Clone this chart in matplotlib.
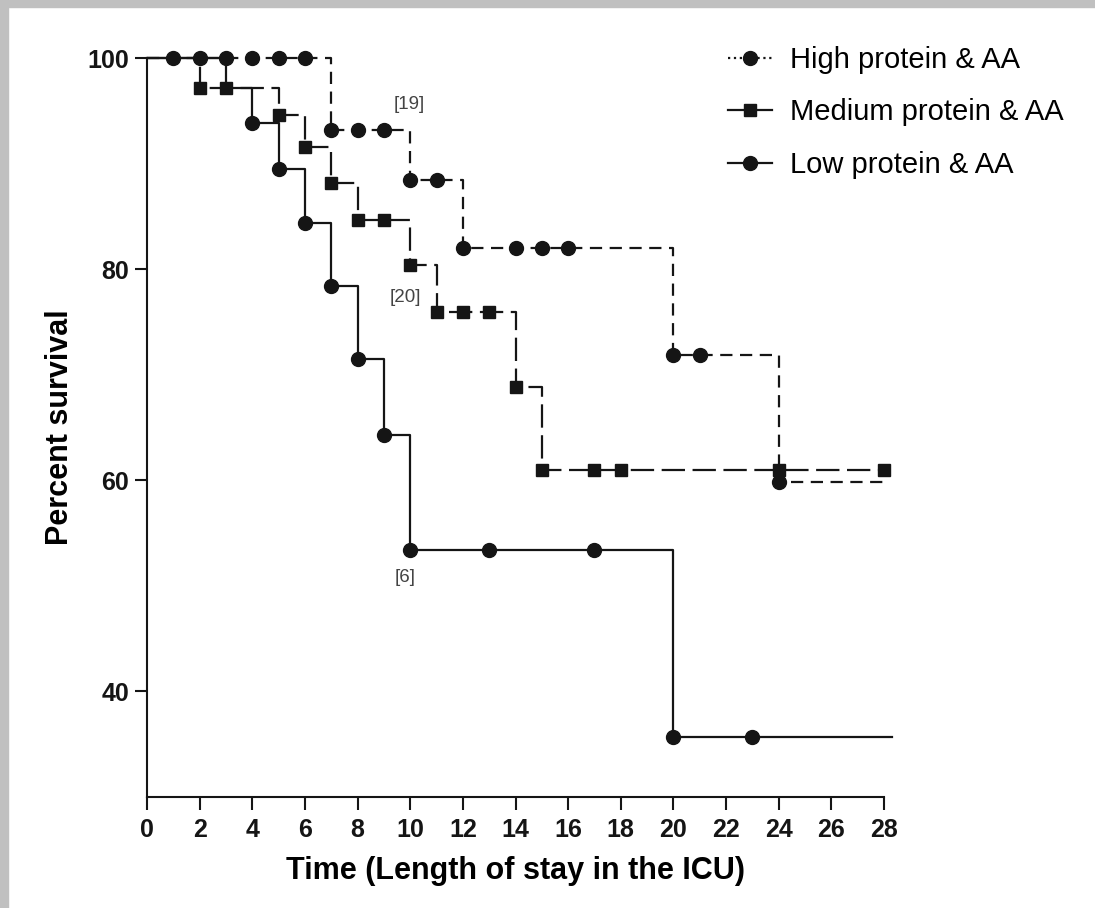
import numpy as np
import matplotlib
matplotlib.use("Agg")
import matplotlib.pyplot as plt
from matplotlib.patches import Rectangle

plt.rcParams['font.family'] = ['Liberation Sans', 'DejaVu Sans']

# Kaplan-Meier steps: time of each drop and survival (%) after it
high_t = [0, 7, 10, 12, 20, 24, 28]
high_s = [100, 93.2, 88.4, 82.0, 71.9, 59.8, 59.8]
high_marks = [1, 2, 3, 4, 5, 6, 7, 8, 9, 10, 11, 12, 14, 15, 16, 20, 21, 24]

med_t = [0, 2, 5, 6, 7, 8, 10, 11, 14, 15, 28]
med_s = [100, 97.2, 94.6, 91.6, 88.2, 84.7, 80.4, 75.9, 68.8, 61.0, 61.0]
med_marks = [2, 3, 5, 6, 7, 8, 9, 10, 11, 12, 13, 14, 15, 17, 18, 24, 28]

low_t = [0, 3, 4, 5, 6, 7, 8, 9, 10, 20, 28.3]
low_s = [100, 97.2, 93.8, 89.5, 84.4, 78.4, 71.5, 64.3, 53.4, 35.7, 35.7]
low_marks = [4, 5, 6, 7, 8, 9, 10, 13, 17, 20, 23]

# numbers at risk written next to the curves
risk_labels = ['[19]', '[20]', '[6]']
risk_pos = [(9.95, 95.6), (9.8, 77.3), (9.8, 50.8)]

xticks = list(range(0, 29, 2))
yticks = [40, 60, 80, 100]


def surv_at(t, s, x):
    idx = np.searchsorted(t, x, side='right') - 1
    return np.array(s)[idx]


fig = plt.figure(figsize=(10.95, 9.08), dpi=100)
# grey page edge
fig.patches.append(Rectangle((0, 0), 8 / 1095, 1, transform=fig.transFigure,
                             color='#c0c0c0', zorder=0))
fig.patches.append(Rectangle((0, 1 - 7 / 908), 1, 7 / 908, transform=fig.transFigure,
                             color='#c0c0c0', zorder=0))

ax = fig.add_axes([147 / 1095, 111 / 908, 737 / 1095, 739 / 908])

col = '#151515'
lw = 1.6
curves = [
    (high_t, high_s, high_marks, 'o', (5.5, 3.4), 'High protein & AA'),
    (med_t, med_s, med_marks, 's', (10.5, 3.4), 'Medium protein & AA'),
    (low_t, low_s, low_marks, 'o', None, 'Low protein & AA'),
]
handles = []
for t, s, marks, mk, dash, name in curves:
    ms = 10 if mk == 'o' else 9
    line, = ax.step(t, s, where='post', color=col, lw=lw, clip_on=False, zorder=3)
    if dash is not None:
        line.set_dashes(dash)
    ax.plot(marks, surv_at(t, s, marks), linestyle='none', marker=mk,
            ms=ms, color=col, clip_on=False, zorder=4)
    if name.startswith('High'):
        h, = ax.plot([], [], color=col, lw=lw, marker='o', ms=ms, linestyle=':')
    else:
        h, = ax.plot([], [], color=col, lw=lw, marker=mk, ms=ms)
    h.set_label(name)
    handles.append(h)

for txt, (x, y) in zip(risk_labels, risk_pos):
    ax.text(x, y, txt, fontsize=13.5, color='#444444', ha='center', va='center')

ax.set_xlim(0, 28)
ax.set_ylim(30, 100)
ax.set_xticks(xticks)
ax.set_yticks(yticks)
for lab in ax.get_xticklabels() + ax.get_yticklabels():
    lab.set_fontweight('bold')
ax.tick_params(direction='out', length=9, width=1.5, labelsize=18, colors=col)
ax.tick_params(axis='x', pad=6)
ax.tick_params(axis='y', pad=4)
ax.spines['top'].set_visible(False)
ax.spines['right'].set_visible(False)
for sp in ['left', 'bottom']:
    ax.spines[sp].set_linewidth(1.5)
    ax.spines[sp].set_color(col)

ax.set_xlabel('Time (Length of stay in the ICU)', fontsize=22, fontweight='bold', labelpad=10)
ax.set_ylabel('Percent survival', fontsize=22, fontweight='bold', labelpad=9)

fig.legend(handles=handles, loc='upper left', bbox_to_anchor=(728 / 1095, 1 - 46 / 908),
           frameon=False, fontsize=21, handlelength=1.5, handletextpad=0.62,
           labelspacing=0.84, borderpad=0, borderaxespad=0)

fig.savefig('out.png', dpi=100)
